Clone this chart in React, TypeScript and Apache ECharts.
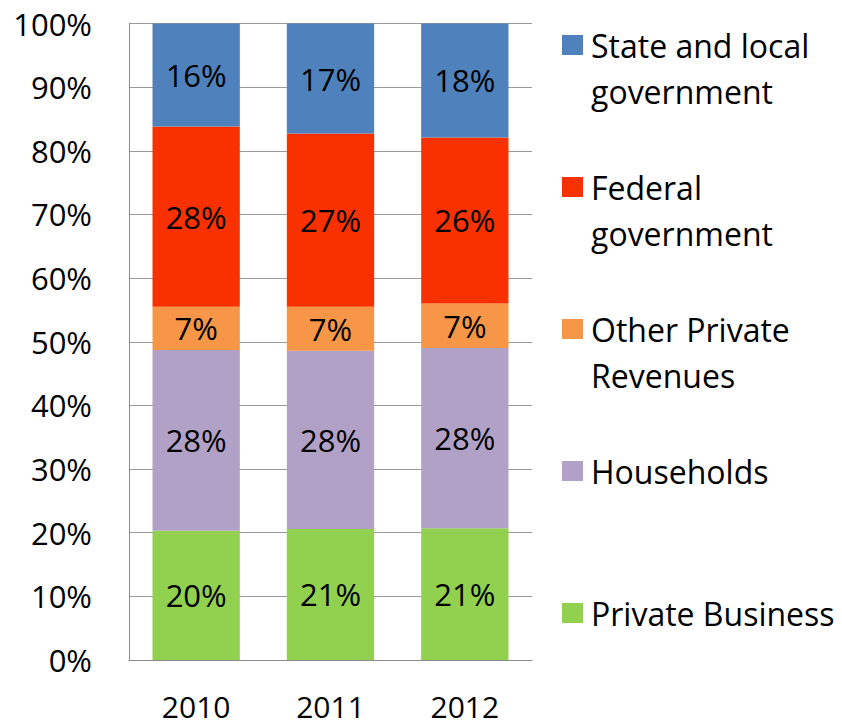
import React, { useEffect, useRef } from "react";
import * as echarts from "echarts";

const years = ["2010", "2011", "2012"];
const seriesNames = [
  "Private Business",
  "Households",
  "Other Private Revenues",
  "Federal government",
  "State and local government",
];
const privateBusiness = [20.3, 20.6, 20.7];
const households = [28.4, 28.0, 28.3];
const otherPrivate = [6.8, 6.9, 7.0];
const federal = [28.3, 27.2, 26.1];
const stateLocal = [16.2, 17.3, 17.9];
const seriesValues = [privateBusiness, households, otherPrivate, federal, stateLocal];
const seriesColors = ["#92D050", "#B2A1C7", "#F79646", "#F93100", "#4F81BD"];
const legendOrder = [
  "State and local government",
  "Federal government",
  "Other Private Revenues",
  "Households",
  "Private Business",
];
const legendText: Record<string, string> = {
  "State and local government": "State and local\ngovernment",
  "Federal government": "Federal\ngovernment",
  "Other Private Revenues": "Other Private\nRevenues",
  "Households": "Households\n ",
  "Private Business": "Private Business\n ",
};

const FONT = "'Open Sans', sans-serif";

export default function App() {
  const ref = useRef<HTMLDivElement>(null);
  useEffect(() => {
    document.body.style.margin = "0";
    const chart = echarts.init(ref.current!, null, { renderer: "svg" });
    chart.setOption({
      animation: false,
      backgroundColor: "#fff",
      grid: { left: 129, right: 310, top: 23.5, bottom: 64, containLabel: false },
      xAxis: {
        type: "category",
        data: years,
        axisTick: { show: false },
        axisLine: { lineStyle: { color: "#8c8c8c", width: 1 } },
        axisLabel: { color: "#000", fontFamily: FONT, fontSize: 30, lineHeight: 24, margin: 34 },
      },
      yAxis: {
        type: "value",
        min: 0,
        max: 100,
        interval: 10,
        axisLine: { show: true, lineStyle: { color: "#8c8c8c", width: 1 } },
        axisTick: { show: false },
        splitLine: { lineStyle: { color: "#9a9a9a", width: 1 } },
        axisLabel: { color: "#000", fontFamily: FONT, fontSize: 31, margin: 37, formatter: "{value}%" },
      },
      legend: {
        orient: "vertical",
        left: 562,
        top: -24,
        padding: 0,
        itemGap: 4,
        itemWidth: 21,
        itemHeight: 20,
        icon: "rect",
        data: legendOrder,
        formatter: (name: string) => "\n" + legendText[name],
        textStyle: { color: "#000", fontFamily: FONT, fontSize: 32, lineHeight: 46, padding: [0, 0, 0, 3] },
      },
      series: seriesNames.map((name, i) => ({
        name,
        type: "bar",
        stack: "total",
        barWidth: "65%",
        data: seriesValues[i],
        itemStyle: { color: seriesColors[i] },
        label: {
          show: true,
          position: "inside",
          color: "#000",
          fontFamily: FONT,
          fontSize: 31,
          formatter: (p: any) => Math.round(p.value) + "%",
        },
      })),
    });
    return () => chart.dispose();
  }, []);
  return <div ref={ref} style={{ width: 842, height: 724, position: "absolute", left: 0, top: 0 }} />;
}
